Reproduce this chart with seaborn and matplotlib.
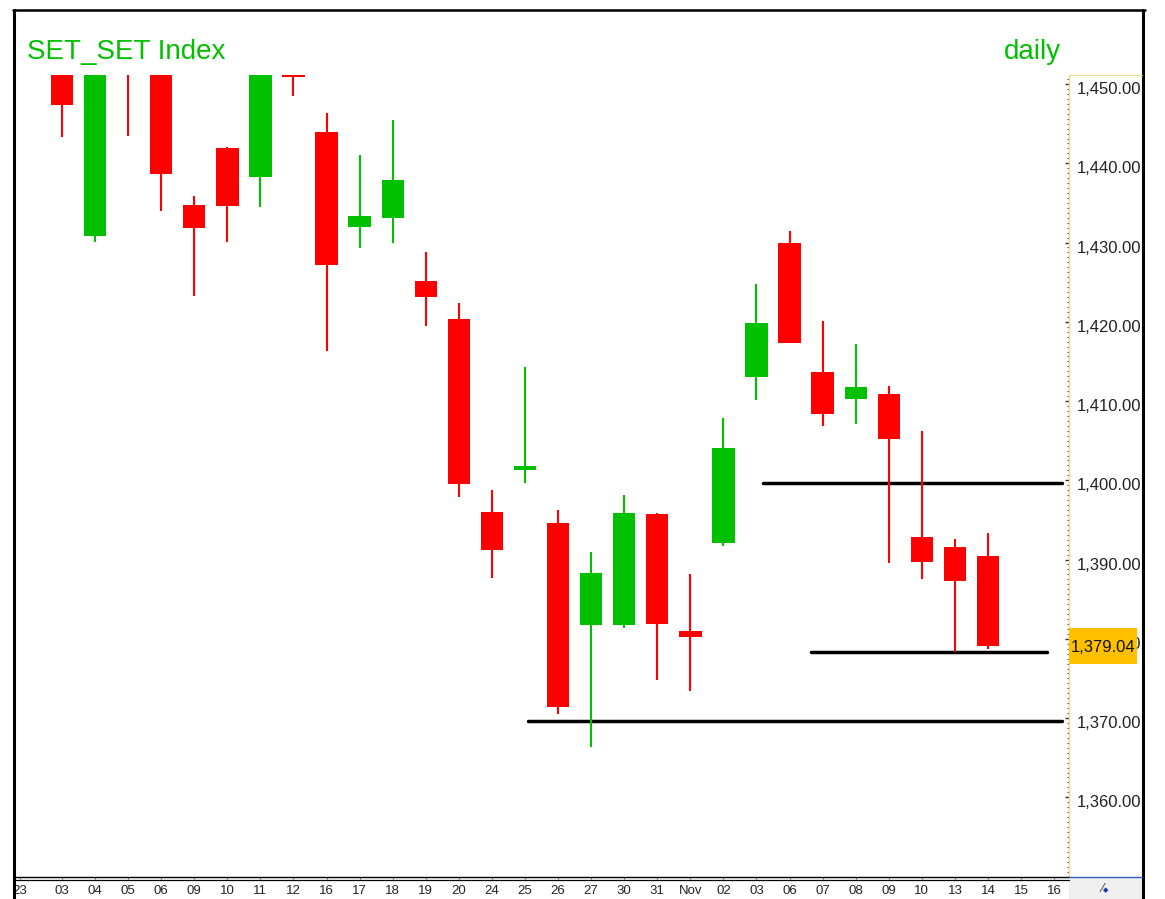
import matplotlib
matplotlib.use("Agg")
import numpy as np
import pandas as pd
import matplotlib.pyplot as plt
import seaborn as sns
from matplotlib import font_manager
from matplotlib.ticker import FixedLocator, MultipleLocator, FuncFormatter
from matplotlib.transforms import ScaledTranslation
from matplotlib.patches import Rectangle
from matplotlib.lines import Line2D

# ---------------- data ----------------
days = ["03", "04", "05", "06", "09", "10", "11", "12", "16", "17", "18", "19", "20",
        "24", "25", "26", "27", "30", "31", "Nov", "02", "03", "06", "07", "08", "09",
        "10", "13", "14"]
opens = [1452.5, 1430.83, 1460.0, 1455.0, 1434.74, 1441.93, 1438.23, 1452.5, 1443.95,
         1431.96, 1433.10, 1425.11, 1420.35, 1396.04, 1401.34, 1394.57, 1381.70, 1381.70,
         1395.71, 1380.98, 1392.13, 1413.07, 1429.98, 1413.70, 1410.30, 1410.93, 1392.81,
         1391.55, 1390.41]
highs = [1454.0, 1458.0, 1461.0, 1456.0, 1435.87, 1442.02, 1456.5, 1453.0, 1446.31,
         1441.05, 1445.46, 1428.77, 1422.37, 1398.81, 1414.26, 1396.25, 1390.92, 1398.15,
         1395.91, 1388.14, 1407.82, 1424.77, 1431.50, 1420.10, 1417.20, 1411.94, 1406.22,
         1392.63, 1393.31]
lows = [1443.36, 1430.07, 1443.45, 1434.02, 1423.29, 1430.03, 1434.52, 1448.49, 1416.28,
        1429.31, 1429.91, 1419.51, 1397.93, 1387.71, 1399.62, 1370.55, 1366.38, 1381.32,
        1374.80, 1373.41, 1391.75, 1410.13, 1417.29, 1406.89, 1407.14, 1389.60, 1387.55,
        1378.37, 1378.68]
closes = [1447.40, 1456.0, 1455.0, 1438.61, 1431.84, 1434.61, 1455.0, 1450.93, 1427.21,
          1433.39, 1437.89, 1423.17, 1399.50, 1391.21, 1401.84, 1371.39, 1388.27, 1395.91,
          1381.91, 1380.19, 1404.04, 1419.81, 1417.29, 1408.40, 1411.81, 1405.17, 1389.65,
          1387.29, 1379.04]
first_label = "23"
future_days = ["15", "16"]
price_ticks = [1360, 1370, 1380, 1390, 1400, 1410, 1420, 1430, 1440, 1450]
last_price = 1379.04
levels = [1399.7, 1378.3, 1369.6]
level_start = [21.2, 22.65, 14.1]
level_end = [30.25, 29.78, 30.25]
title_left = "SET_SET Index"
title_right = "daily"

# ---------------- style ----------------
sns.set_style("white")
names = {f.name for f in font_manager.fontManager.ttflist}
narrow = "Liberation Sans Narrow" in names
if narrow:
    FAM = ["Liberation Sans Narrow", "DejaVu Sans"]
    TITLE_SZ, YT_SZ, XT_SZ = 25, 14.5, 11
else:
    FAM = ["Liberation Sans", "DejaVu Sans"]
    TITLE_SZ, YT_SZ, XT_SZ = 20, 12, 9.5
plt.rcParams["font.family"] = FAM

GREEN = "#00C000"
RED = "#FF0000"
YEL = "#F2D98C"

W, H = 1165, 899
fig = plt.figure(figsize=(W / 100, H / 100), dpi=100)
fig.patch.set_facecolor("white")


def fx(p):
    return p / W


def fy(p):
    return 1 - p / H


ax = fig.add_axes([fx(15), fy(877), fx(1069) - fx(15), fy(74.7) - fy(877)])
ax.set_facecolor("white")

df = pd.DataFrame({"day": days, "open": opens, "high": highs, "low": lows, "close": closes})
df["x"] = np.arange(len(df))
df["color"] = np.where(df["close"] > df["open"], GREEN, RED)

# support / resistance lines (seaborn)
lv = pd.DataFrame({"x": level_start + level_end,
                   "y": levels + levels,
                   "id": list(range(len(levels))) * 2})
sns.lineplot(data=lv, x="x", y="y", units="id", estimator=None, color="black",
             linewidth=2.5, ax=ax, legend=False, zorder=2)

# candles
ax.vlines(df["x"], df["low"], df["high"], colors=df["color"], lw=1.5, zorder=3)
ax.bar(df["x"], (df["close"] - df["open"]).abs(),
       bottom=df[["open", "close"]].min(axis=1), width=0.675,
       color=df["color"], lw=0, zorder=4)

ax.set_xlim(-1.421, 30.45)
ax.set_ylim(1349.94, 1451.18)
ax.set_xlabel("")
ax.set_ylabel("")

xt = [-1.27] + list(range(len(days) + len(future_days)))
ax.set_xticks(xt, [first_label] + days + future_days)
ax.tick_params(axis="x", length=1.5, width=0.8, color="#666666", pad=4,
               labelsize=XT_SZ, labelcolor="#222222", bottom=True)

ax.yaxis.tick_right()
ax.set_yticks(price_ticks)
ax.yaxis.set_major_formatter(FuncFormatter(lambda v, p: f"{v:,.2f}"))
ax.yaxis.set_minor_locator(MultipleLocator(0.625))
ax.tick_params(axis="y", which="major", direction="in", length=3, width=1,
               color="#333333", pad=5.8, labelsize=YT_SZ, labelcolor="#222222",
               right=True, left=False)
ax.tick_params(axis="y", which="minor", direction="in", length=1.5, width=0.8,
               color="#555555", right=True, left=False)

off = ScaledTranslation(0, -4 / 100, fig.dpi_scale_trans)
for lab in ax.get_yticklabels():
    lab.set_transform(lab.get_transform() + off)

for s in ["top", "left"]:
    ax.spines[s].set_visible(False)
ax.spines["right"].set_color(YEL)
ax.spines["right"].set_linewidth(1)
ax.spines["bottom"].set_color("black")
ax.spines["bottom"].set_linewidth(1)

# frame and panels
fig.add_artist(Line2D([fx(13), fx(1144.5)], [fy(10), fy(10)], color="black", lw=1.8))
fig.add_artist(Line2D([fx(14), fx(14)], [fy(10), 0], color="black", lw=2.2))
fig.add_artist(Line2D([fx(1143), fx(1143)], [fy(10), 0], color="black", lw=2.2))
fig.add_artist(Line2D([fx(1069), fx(1142)], [fy(74.5), fy(74.5)], color=YEL, lw=0.8))
fig.add_artist(Line2D([fx(15), fx(1069)], [fy(879.6), fy(879.6)], color="black", lw=0.9))
fig.add_artist(Rectangle((fx(1069), 0), fx(1142) - fx(1069), fy(877), color="#EFEFEF", lw=0))
fig.add_artist(Line2D([fx(1069), fx(1142)], [fy(877), fy(877)], color="#2F5BC8", lw=1))
fig.text(fx(1103), fy(889), "⁄", color="#333333", fontsize=9, ha="center", va="center")
fig.text(fx(1106), fy(890), "◆", color="#1030C0", fontsize=5, ha="center", va="center",
         family=["DejaVu Sans"])

# last price badge (covers the 1,380.00 tick label as in the original)
fig.add_artist(Rectangle((fx(1069), fy(664.3)), fx(1137) - fx(1069), fy(627.7) - fy(664.3),
                         color="#FFC000", lw=0, zorder=5))
fig.text(fx(1103), fy(647), f"{last_price:,.2f}", color="#111111", fontsize=YT_SZ,
         ha="center", va="center", zorder=6)

# titles
fig.text(fx(27), fy(59), title_left, color=GREEN, fontsize=TITLE_SZ, ha="left", va="baseline")
fig.text(fx(1061), fy(59), title_right, color=GREEN, fontsize=TITLE_SZ, ha="right", va="baseline")

fig.savefig("out.png", dpi=100, facecolor="white")
